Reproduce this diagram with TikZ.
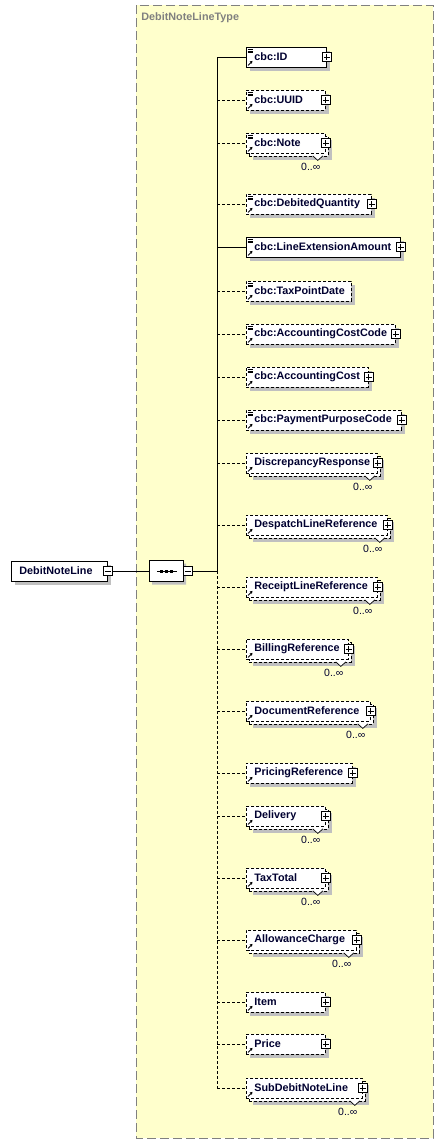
\documentclass[tikz,border=0pt]{standalone}
\usepackage{fontspec}
\setmainfont{Liberation Sans}
\usepackage{tikz}
\usepackage{xcolor}
\usetikzlibrary{calc,shadows,shapes.misc,arrows.meta}

\definecolor{typefill}{RGB}{255,255,204}
\definecolor{typeline}{RGB}{128,128,128}
\definecolor{shgray}{RGB}{192,192,192}
\definecolor{elname}{RGB}{0,0,48}

\tikzset{
  opt/.style={dash pattern=on 3pt off 2pt},
  req/.style={solid},
  need/.code={\ifnum#1=1 \tikzset{req}\else\tikzset{opt}\fi},
  one/.style={drop shadow={shadow xshift=4pt,shadow yshift=-4pt,fill=shgray,draw=none,opacity=1}},
  many/.style={drop shadow={shadow xshift=6.5pt,shadow yshift=-6.5pt,fill=shgray,draw=none,opacity=1},
               copy shadow={shadow xshift=3pt,shadow yshift=-3pt}},
  stack/.code={\ifnum#1=1 \tikzset{many}\else\tikzset{one}\fi},
  elbox/.style={draw,fill=white,line width=0.8pt,minimum height=20pt,inner sep=0pt,anchor=west},
  eltext/.style={font=\fontsize{10.8}{12}\selectfont\bfseries,text=elname,inner sep=0pt,anchor=west},
  occ/.style={font=\fontsize{10.5}{12}\selectfont,text=elname,inner sep=0pt},
  pmbox/.style={draw,fill=white,solid,line width=0.7pt,minimum size=9.5pt,inner sep=0pt},
  plus/.style={pmbox,path picture={\draw[line width=0.7pt]
      ([xshift=-3pt]path picture bounding box.center) -- ([xshift=3pt]path picture bounding box.center)
      ([yshift=-3pt]path picture bounding box.center) -- ([yshift=3pt]path picture bounding box.center);}},
  minus/.style={pmbox,path picture={\draw[line width=0.7pt]
      ([xshift=-3pt]path picture bounding box.center) -- ([xshift=3pt]path picture bounding box.center);}},
}

\begin{document}
\begin{tikzpicture}[x=1pt,y=-1pt,line width=0.8pt]
  \useasboundingbox (0,0) rectangle (444,1144);
  % complex type
  \draw[typeline,fill=typefill,dash pattern=on 9pt off 4pt,line width=1pt] (136,5) rectangle (433,1138);
  \node[eltext,text=typeline] (ttl) at (141,18) {DebitNoteLineType};

  % the element itself
  \node[elbox,one,minimum width=96pt] (dnl) at (11,571) {};
  \node[eltext] (dnlt) at ([xshift=8pt]dnl.west) {DebitNoteLine};
  \node[minus] (dnlpm) at (dnl.east) {};

  % sequence
  \node[draw,fill=white,chamfered rectangle,chamfered rectangle xsep=4pt,chamfered rectangle ysep=4pt,
        minimum width=34pt,minimum height=21pt,inner sep=0pt,
        drop shadow={shadow xshift=3pt,shadow yshift=-3pt,fill=shgray,draw=none,opacity=1}] (seq) at (166,571) {};
  \draw (157,571) -- (177,571);
  \foreach \d in {161,166,171} \fill (\d-1.5,569.5) rectangle (\d+1.5,572.5);
  \node[minus] (seqpm) at (188,571) {};
  \coordinate (jn) at (217,571);
  \draw (dnlpm) -- (seq);
  \draw (seqpm) -- (jn);

  % children: name/y/right/text/required/many/cbc/plus
  \foreach \nm/\yy/\rr/\txt/\nd/\st/\cb/\pl in {
      id/57/326/cbc:ID/1/0/1/1,
      uuid/100/325/cbc:UUID/0/0/1/1,
      note/143/325/cbc:Note/0/1/1/1,
      debqty/204/371/cbc:DebitedQuantity/0/0/1/1,
      lineamt/247/400/cbc:LineExtensionAmount/1/0/1/1,
      taxdate/291/351/cbc:TaxPointDate/0/0/1/0,
      acccode/334/395/cbc:AccountingCostCode/0/0/1/1,
      acccost/377/368/cbc:AccountingCost/0/0/1/1,
      paycode/420/401/cbc:PaymentPurposeCode/0/0/1/1,
      discresp/463/377/DiscrepancyResponse/0/1/0/1,
      despref/525/387/DespatchLineReference/0/1/0/1,
      rcptref/587/377/ReceiptLineReference/0/1/0/1,
      billref/649/348/BillingReference/0/1/0/1,
      docref/711/370/DocumentReference/0/1/0/1,
      priceref/773/352/PricingReference/0/0/0/1,
      delivery/816/325/Delivery/0/1/0/1,
      taxtotal/878/325/TaxTotal/0/1/0/1,
      allowch/940/356/AllowanceCharge/0/1/0/1,
      item/1002/325/Item/0/0/0/1,
      price/1044/325/Price/0/0/0/1,
      subline/1088/362/SubDebitNoteLine/0/1/0/1}{
    \node[elbox,need=\nd,stack=\st,minimum width={(\rr-246)*1pt}] (\nm) at (246,\yy) {};
    \node[eltext] (\nm t) at ([xshift=8pt]\nm.west) {\txt};
    \draw[need=\nd] (jn |- \nm.west) -- (\nm.west);
    \draw[line width=0.9pt,-{Triangle[length=2.5pt,width=3pt]}] ([xshift=2pt,yshift=2pt]\nm.south west) -- ++(4.5,-4.5);
    \ifnum\cb=1
      \foreach \k in {2.5,4.3,6.1} \draw[line width=0.6pt] ([xshift=1.5pt,yshift=-\k pt]\nm.north west) -- ++(5.5,0);
    \fi
    \ifnum\pl=1 \node[plus] (\nm p) at (\nm.east) {}; \fi
    \ifnum\st=1
      \draw[fill=white,line width=0.7pt] ([xshift=-13pt,yshift=-2.5pt]\nm.south east) -- ++(5,4.5) -- ++(5,-4.5);
      \node[occ] (\nm o) at ([xshift=-15pt,yshift=-13pt]\nm.south east) {0..∞};
    \fi
  }

  % spine
  \draw (jn) -- (jn |- id.west);
  \draw[opt] (jn) -- (jn |- subline.west);
\end{tikzpicture}
\end{document}
